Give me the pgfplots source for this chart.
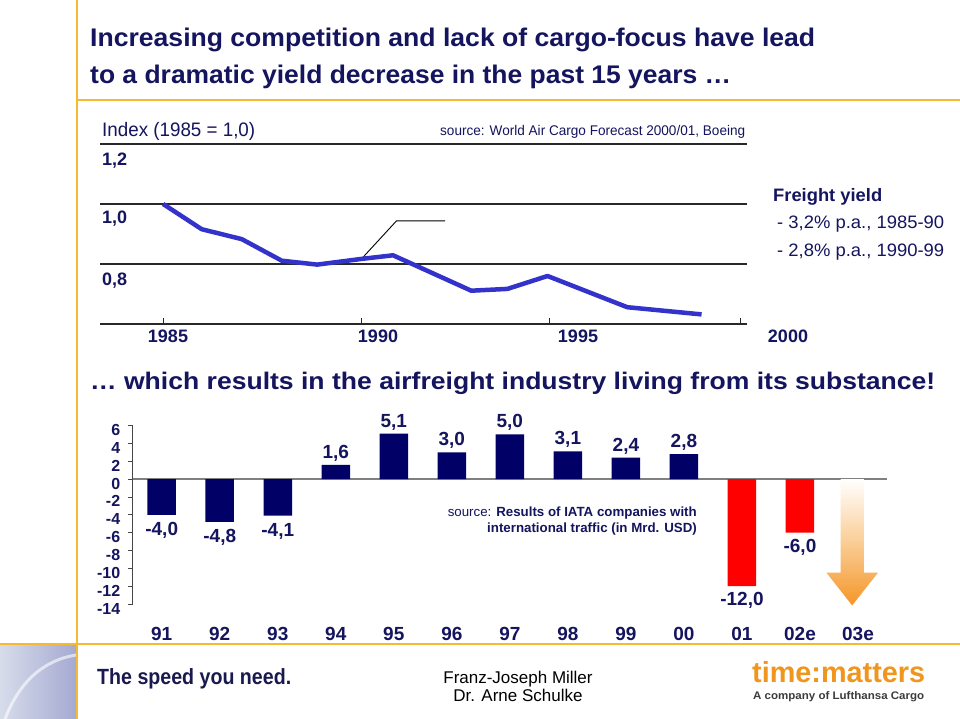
\documentclass[border=0pt]{standalone}
\usepackage{pgfplots}
\pgfplotsset{compat=1.18}
\usepackage{fontspec}
\setmainfont{Liberation Sans}
\usepackage{graphicx}

\definecolor{tnavy}{RGB}{20,20,95}
\definecolor{bnavy}{RGB}{0,0,102}
\definecolor{gold}{RGB}{245,185,50}
\definecolor{lblue}{RGB}{51,51,204}
\definecolor{ggray}{RGB}{40,40,40}
\definecolor{zgray}{RGB}{128,128,128}
\definecolor{aorange}{RGB}{245,150,40}
\definecolor{tmorange}{RGB}{240,150,30}
\definecolor{photoA}{RGB}{215,220,235}
\definecolor{photoB}{RGB}{165,170,210}

\newcommand{\fs}[1]{\fontsize{#1}{#1}\selectfont}

\begin{document}
\begin{tikzpicture}
\begin{scope}[x=1pt,y=-1pt]
\path[use as bounding box, fill=white] (0,0) rectangle (960,719);
\shade[left color=photoA, right color=photoB] (0,645) rectangle (76,719);
\draw[white, line width=3pt, opacity=0.6] (5,719) .. controls (20,680) and (45,660) .. (76,655);
\draw[gold, line width=2pt] (77,0) -- (77,719);
\draw[gold, line width=2pt] (77,100) -- (960,100);
\draw[gold, line width=2pt] (0,644) -- (960,644);
% titles
\node[anchor=base west, inner sep=0, text=tnavy] at (90,47) {\resizebox{725pt}{\height}{\bfseries\fs{25.5}Increasing competition and lack of cargo-focus have lead}};
\node[anchor=base west, inner sep=0, text=tnavy] at (90,84) {\resizebox{641pt}{\height}{\bfseries\fs{25.5}to a dramatic yield decrease in the past 15 years …}};
% top chart texts
\node[anchor=base west, inner sep=0, text=tnavy] at (102,137) {\resizebox{153pt}{\height}{\fs{19.5}Index (1985 = 1,0)}};
\node[anchor=base west, inner sep=0, text=tnavy] at (440,136) {\resizebox{305pt}{\height}{\fs{14}source: World Air Cargo Forecast 2000/01, Boeing}};
\node[anchor=base west, inner sep=0, text=tnavy] at (102,166) {\bfseries\fs{18}1,2};
\node[anchor=base west, inner sep=0, text=tnavy] at (102,224) {\bfseries\fs{18}1,0};
\node[anchor=base west, inner sep=0, text=tnavy] at (102,285) {\bfseries\fs{18}0,8};
\node[anchor=base, inner sep=0, text=tnavy] at (168,342) {\bfseries\fs{18}1985};
\node[anchor=base, inner sep=0, text=tnavy] at (378,342) {\bfseries\fs{18}1990};
\node[anchor=base, inner sep=0, text=tnavy] at (578,342) {\bfseries\fs{18}1995};
\node[anchor=base, inner sep=0, text=tnavy] at (788,342) {\bfseries\fs{18}2000};
\node[anchor=base west, inner sep=0, text=tnavy] at (773,202) {\resizebox{109pt}{\height}{\bfseries\fs{18}Freight yield}};
\node[anchor=base west, inner sep=0, text=tnavy] at (777,229) {\resizebox{167pt}{\height}{\fs{18}- 3,2\% p.a., 1985-90}};
\node[anchor=base west, inner sep=0, text=tnavy] at (777,256) {\resizebox{167pt}{\height}{\fs{18}- 2,8\% p.a., 1990-99}};
% second heading
\node[anchor=base west, inner sep=0, text=tnavy] at (90,389) {\resizebox{845pt}{\height}{\bfseries\fs{24}… which results in the airfreight industry living from its substance!}};
% bottom source
\node[anchor=base east, inner sep=0, text=tnavy] at (697,516) {\fs{13.3}source: \bfseries Results of IATA companies with};
\node[anchor=base east, inner sep=0, text=tnavy] at (697,532) {\fs{13.3}\bfseries international traffic (in Mrd. USD)};
% footer
\node[anchor=base west, inner sep=0, text={rgb,255:red,25;green,25;blue,80}] at (97,684) {\resizebox{194pt}{\height}{\bfseries\fs{22}The speed you need.}};
\node[anchor=base, inner sep=0, text=black] at (518,683) {\fs{17}Franz-Joseph Miller};
\node[anchor=base, inner sep=0, text=black] at (518,701) {\fs{17}Dr. Arne Schulke};
\node[anchor=base west, inner sep=0, text=tmorange] at (752,682) {\resizebox{173pt}{\height}{\bfseries\fs{29}time:matters}};
\node[anchor=base west, inner sep=0, text={rgb,255:red,60;green,60;blue,60}] at (753,699) {\resizebox{171pt}{\height}{\bfseries\fs{11}A company of Lufthansa Cargo}};
\end{scope}

% ---------- top line chart ----------
\begin{axis}[
  at={(100pt,-324pt)}, anchor=south west, scale only axis,
  width=647pt, height=180pt,
  xmin=1983.36, xmax=2000.16, ymin=0.6, ymax=1.2,
  axis x line*=bottom, axis y line*=left,
  x axis line style={-, line width=1.5pt, color=ggray},
  y axis line style={draw=none},
  xtick={1985,1990.15,1995.02,2000}, xticklabels={},
  tick align=inside, major tick length=6pt,
  xtick style={line width=1pt, color=ggray},
  ytick={0.8,1.0,1.2}, yticklabels={}, ytick style={draw=none},
  ymajorgrids, y grid style={line width=1.5pt, color=ggray},
  clip=false]
\draw[black, line width=0.9pt] (axis cs:1990.15,0.817) -- (axis cs:1991.06,0.944) -- (axis cs:1992.32,0.944);
\addplot[color=lblue, line width=4.5pt, line join=round, mark=none] coordinates {
 (1985.00,1.000) (1986.00,0.916) (1987.04,0.883) (1988.08,0.811)
 (1989.00,0.798) (1990.15,0.817) (1990.97,0.829) (1993.00,0.711)
 (1993.94,0.717) (1994.98,0.760) (1997.05,0.656) (1998.98,0.632)
};
\end{axis}

% ---------- bottom bar chart ----------
\begin{axis}[
  at={(132.7pt,-604pt)}, anchor=south west, scale only axis,
  width=754.3pt, height=178.5pt,
  xmin=-0.5, xmax=12.5, ymin=-14, ymax=6,
  axis x line*=bottom, axis y line*=left,
  x axis line style={draw=none},
  y axis line style={-, line width=0.8pt, color={rgb,255:red,70;green,70;blue,70}},
  xtick={0,1,2,3,4,5,6,7,8,9,10,11,12},
  xticklabels={91,92,93,94,95,96,97,98,99,00,01,02e,03e},
  xtick style={draw=none},
  xticklabel style={anchor=base, yshift=-31pt, font=\bfseries\fs{19}, text=tnavy},
  ytick={-14,-12,-10,-8,-6,-4,-2,0,2,4,6},
  yticklabels={-14,-12,-10,-8,-6,-4,-2,0,2,4,6},
  tick align=outside, major tick length=5pt,
  ytick style={line width=0.8pt, color={rgb,255:red,70;green,70;blue,70}},
  yticklabel style={font=\bfseries\fs{16}, text=tnavy, yshift=-4.5pt, xshift=-4pt},
  clip=false]
\draw[zgray, line width=1.5pt] (axis cs:-0.5,0) -- (axis cs:12.5,0);
\shade[top color=white, bottom color=aorange, middle color={rgb,255:red,250;green,205;blue,150}]
  (axis cs:11.7,0) -- (axis cs:12.1,0) -- (axis cs:12.1,-10.48) -- (axis cs:12.345,-10.48)
  -- (axis cs:11.9,-14.16) -- (axis cs:11.455,-10.48) -- (axis cs:11.7,-10.48) -- cycle;
\addplot[ybar, bar width=28.5pt, bar shift=0pt, fill=bnavy, draw=none,
  nodes near coords, point meta=explicit symbolic,
  every node near coord/.append style={anchor=south, font=\bfseries\fs{19}, text=tnavy}]
  table[meta=lab] {
x y lab
3 1.6 1,6
4 5.1 5,1
5 3.0 3,0
6 5.0 5,0
7 3.1 3,1
8 2.4 2,4
9 2.8 2,8
};
\addplot[ybar, bar width=28.5pt, bar shift=0pt, fill=bnavy, draw=none,
  nodes near coords, point meta=explicit symbolic,
  every node near coord/.append style={anchor=north, yshift=-4pt, font=\bfseries\fs{19}, text=tnavy}]
  table[meta=lab] {
x y lab
0 -4.0 -4,0
1 -4.8 -4,8
2 -4.1 -4,1
};
\addplot[ybar, bar width=28.5pt, bar shift=0pt, fill=red, draw=none,
  nodes near coords, point meta=explicit symbolic,
  every node near coord/.append style={anchor=north, yshift=-3pt, font=\bfseries\fs{19}, text=tnavy}]
  table[meta=lab] {
x y lab
10 -12.0 -12,0
11 -6.0 -6,0
};
\end{axis}
\end{tikzpicture}
\end{document}
